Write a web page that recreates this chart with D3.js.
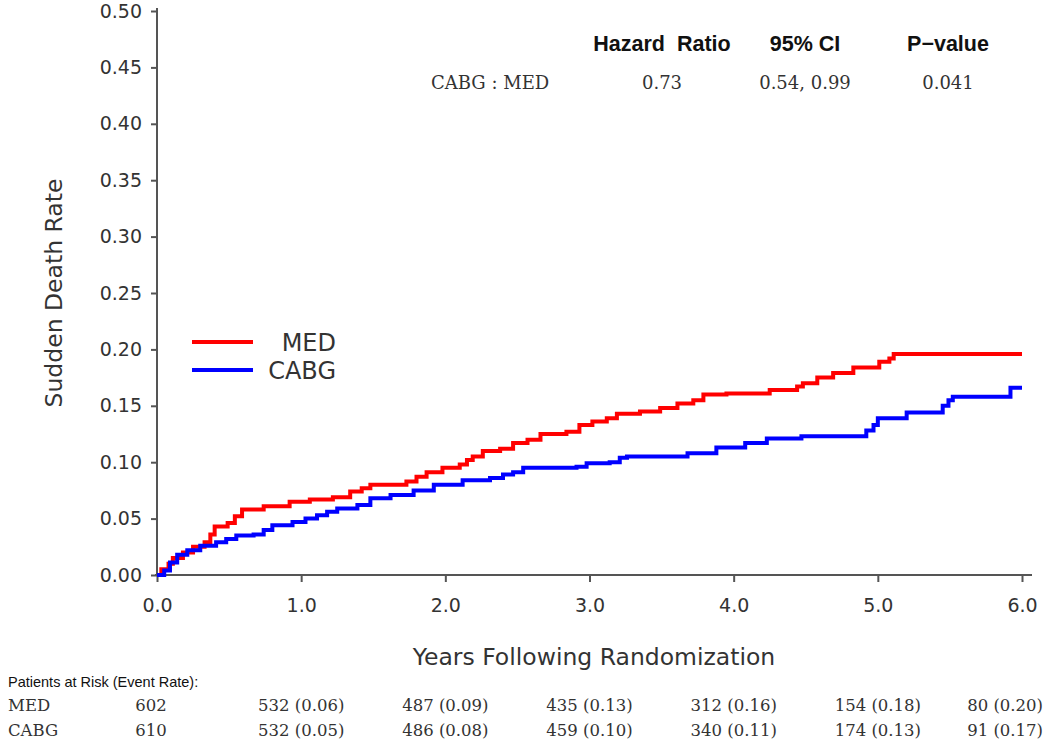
<!DOCTYPE html>
<html>
<head>
<meta charset="utf-8">
<script src="https://cdn.jsdelivr.net/npm/d3@7"></script>
<style>
  html, body { margin: 0; padding: 0; background: #fff; }
  svg { display: block; }
</style>
</head>
<body>
<svg id="chart" width="1050" height="743"></svg>
<script>
// ---------- DATA ----------
const seriesNames = ["MED", "CABG"];
const seriesColors = ["#ff0000", "#0000ff"];

const medTimes = [0, 0.03, 0.08, 0.11, 0.18, 0.25, 0.33, 0.37, 0.40, 0.49, 0.54, 0.59, 0.74, 0.92, 1.06, 1.22, 1.34, 1.42, 1.48, 1.73, 1.80, 1.87, 1.98, 2.10, 2.15, 2.19, 2.26, 2.38, 2.47, 2.57, 2.66, 2.84, 2.93, 3.02, 3.12, 3.19, 3.35, 3.49, 3.61, 3.72, 3.79, 3.95, 4.25, 4.44, 4.48, 4.58, 4.69, 4.83, 5.01, 5.08, 5.11, 6.00];
const medRates = [0, 0.005, 0.010, 0.015, 0.020, 0.025, 0.029, 0.036, 0.043, 0.046, 0.052, 0.058, 0.061, 0.065, 0.067, 0.069, 0.074, 0.077, 0.080, 0.083, 0.087, 0.091, 0.095, 0.098, 0.102, 0.105, 0.110, 0.112, 0.117, 0.120, 0.125, 0.127, 0.133, 0.136, 0.139, 0.143, 0.145, 0.148, 0.152, 0.155, 0.160, 0.161, 0.164, 0.167, 0.170, 0.175, 0.179, 0.184, 0.189, 0.192, 0.196, 0.196];

const cabgTimes = [0, 0.05, 0.09, 0.14, 0.21, 0.30, 0.41, 0.48, 0.55, 0.67, 0.74, 0.80, 0.94, 1.03, 1.11, 1.18, 1.25, 1.39, 1.48, 1.62, 1.78, 1.92, 2.12, 2.31, 2.40, 2.47, 2.54, 2.91, 2.98, 3.14, 3.21, 3.26, 3.68, 3.88, 4.08, 4.23, 4.47, 4.92, 4.97, 5.00, 5.20, 5.45, 5.49, 5.52, 5.92, 6.00];
const cabgRates = [0, 0.004, 0.011, 0.018, 0.022, 0.026, 0.029, 0.032, 0.035, 0.036, 0.040, 0.044, 0.047, 0.050, 0.053, 0.056, 0.059, 0.062, 0.068, 0.071, 0.075, 0.080, 0.084, 0.086, 0.089, 0.091, 0.095, 0.096, 0.099, 0.100, 0.104, 0.105, 0.108, 0.113, 0.117, 0.121, 0.123, 0.128, 0.133, 0.139, 0.144, 0.150, 0.155, 0.158, 0.166, 0.166];

const xTicks = [0, 1, 2, 3, 4, 5, 6];
const yTicks = [0, 0.05, 0.10, 0.15, 0.20, 0.25, 0.30, 0.35, 0.40, 0.45, 0.50];

const hrHeaders = ["Hazard  Ratio", "95% CI", "P\u2212value"];
const hrRowLabel = "CABG : MED";
const hrValues = ["0.73", "0.54, 0.99", "0.041"];

const riskTitle = "Patients at Risk (Event Rate):";
const riskTimes = [0, 1, 2, 3, 4, 5, 6];
const medAtRisk = ["602", "532 (0.06)", "487 (0.09)", "435 (0.13)", "312 (0.16)", "154 (0.18)", "80 (0.20)"];
const cabgAtRisk = ["610", "532 (0.05)", "486 (0.08)", "459 (0.10)", "340 (0.11)", "174 (0.13)", "91 (0.17)"];

const xTitle = "Years Following Randomization";
const yTitle = "Sudden Death Rate";

// ---------- CHART ----------
const svg = d3.select("#chart");
const x = d3.scaleLinear().domain([0, 6]).range([157, 1022]);
const y = d3.scaleLinear().domain([0, 0.5]).range([575, 11]);

const axisColor = "#555";
const textColor = "#333";

// X axis
const gx = svg.append("g").attr("transform", `translate(0,${y(0)})`)
  .call(d3.axisBottom(x).tickValues(xTicks).tickFormat(d3.format(".1f"))
        .tickSize(7).tickSizeOuter(0).tickPadding(17));
gx.select(".domain").remove();
gx.append("line").attr("x1", x(0) - 2).attr("x2", x(6) + 10).attr("y1", 0).attr("y2", 0)
  .attr("stroke", axisColor).attr("stroke-width", 2);
gx.selectAll(".tick line").attr("stroke", axisColor).attr("stroke-width", 2);
gx.selectAll(".tick text").attr("fill", textColor)
  .style("font-family", "DejaVu Sans").style("font-size", "19px");

// Y axis
const gy = svg.append("g").attr("transform", `translate(${x(0)},0)`)
  .call(d3.axisLeft(y).tickValues(yTicks).tickFormat(d3.format(".2f"))
        .tickSize(6).tickSizeOuter(0).tickPadding(9));
gy.select(".domain").remove();
gy.append("line").attr("x1", 0).attr("x2", 0).attr("y1", y(0) + 1).attr("y2", y(0.5) - 3)
  .attr("stroke", axisColor).attr("stroke-width", 2);
gy.selectAll(".tick line").attr("stroke", axisColor).attr("stroke-width", 2);
gy.selectAll(".tick text").attr("fill", textColor)
  .style("font-family", "DejaVu Sans").style("font-size", "19px");

// Titles
svg.append("text").attr("x", 594).attr("y", 665)
  .attr("text-anchor", "middle").attr("fill", textColor)
  .style("font-family", "DejaVu Sans").style("font-size", "23.5px").text(xTitle);
svg.append("text").attr("transform", `translate(62,${(y(0) + y(0.5)) / 2}) rotate(-90)`)
  .attr("text-anchor", "middle").attr("fill", textColor)
  .style("font-family", "DejaVu Sans").style("font-size", "23.5px").text(yTitle);

// Curves
const line = d3.line().x(d => x(d[0])).y(d => y(d[1])).curve(d3.curveStepAfter);
const seriesData = [
  d3.zip(medTimes, medRates),
  d3.zip(cabgTimes, cabgRates)
];
seriesData.forEach((data, i) => {
  svg.append("path").datum(data).attr("d", line)
    .attr("fill", "none").attr("stroke", seriesColors[i]).attr("stroke-width", 4)
    .attr("stroke-linejoin", "miter");
});

// Legend
const legendY = [342, 370];
seriesNames.forEach((name, i) => {
  svg.append("line").attr("x1", 192).attr("x2", 253).attr("y1", legendY[i]).attr("y2", legendY[i])
    .attr("stroke", seriesColors[i]).attr("stroke-width", 4);
  svg.append("text").attr("x", 336).attr("y", legendY[i] + 9)
    .attr("text-anchor", "end").attr("fill", textColor)
    .style("font-family", "DejaVu Sans").style("font-size", "24px").text(name);
});

// Hazard ratio table
const hrX = [662, 805, 948];
hrHeaders.forEach((h, i) => {
  svg.append("text").attr("x", hrX[i]).attr("y", 51).attr("text-anchor", "middle")
    .attr("fill", "#111").style("font-family", "Liberation Sans").style("font-weight", "bold")
    .style("font-size", "21.5px").style("white-space", "pre").text(h);
});
svg.append("text").attr("x", 431).attr("y", 89).attr("fill", textColor)
  .style("font-family", "DejaVu Serif").style("font-size", "18px").text(hrRowLabel);
hrValues.forEach((v, i) => {
  svg.append("text").attr("x", hrX[i]).attr("y", 89).attr("text-anchor", "middle")
    .attr("fill", textColor).style("font-family", "DejaVu Serif").style("font-size", "18px").text(v);
});

// Risk table
svg.append("text").attr("x", 8).attr("y", 687).attr("fill", "#111")
  .style("font-family", "Liberation Sans").style("font-size", "14.5px").text(riskTitle);
const riskRows = [[seriesNames[0], medAtRisk, 711], [seriesNames[1], cabgAtRisk, 736]];
riskRows.forEach(([label, vals, yy]) => {
  svg.append("text").attr("x", 8).attr("y", yy).attr("fill", textColor)
    .style("font-family", "DejaVu Serif").style("font-size", "16.5px").text(label);
  vals.forEach((v, i) => {
    const cx = x(riskTimes[i]) - (i === 0 ? 6 : 0);
    const t = svg.append("text").attr("x", cx).attr("y", yy)
      .attr("text-anchor", "middle").attr("fill", textColor)
      .style("font-family", "DejaVu Serif").style("font-size", "16.5px").text(v);
    const w = t.node().getComputedTextLength();
    if (cx + w / 2 > 1043) {
      t.attr("text-anchor", "end").attr("x", 1043);
    }
  });
});
</script>
</body>
</html>
